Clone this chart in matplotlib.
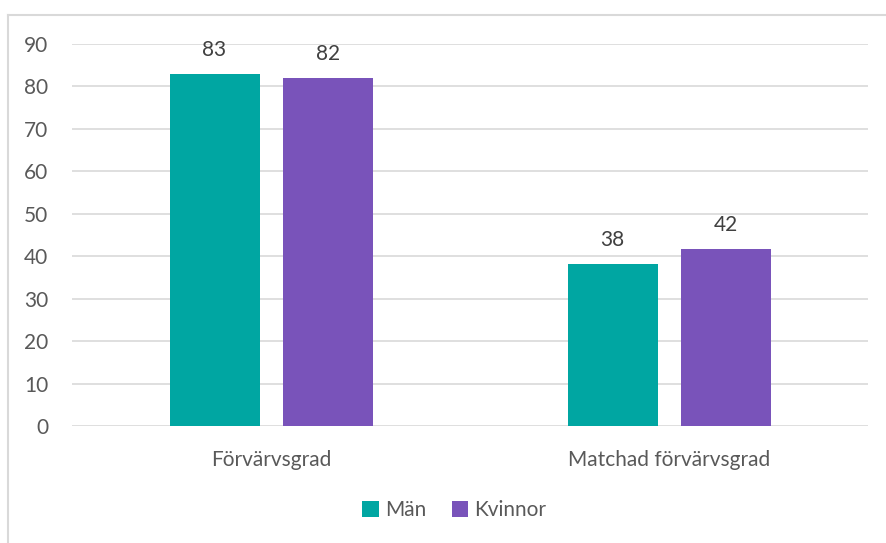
import numpy as np
import matplotlib.pyplot as plt
from matplotlib.lines import Line2D

categories = ['Förvärvsgrad', 'Matchad förvärvsgrad']
man = [83.0, 38.2]
kvinnor = [82.0, 41.7]
yticks = [0, 10, 20, 30, 40, 50, 60, 70, 80, 90]

TEAL = '#00A6A2'
PURPLE = '#7953BA'
TXT = '#595959'

plt.rcParams['font.family'] = ['Lato', 'DejaVu Sans']

fig = plt.figure(figsize=(8.86, 5.43), dpi=100)
ax = fig.add_axes([0.0813, 0.2155, 0.8987, 0.7035])

x = np.arange(len(categories))
w = 0.226
off = 0.142
b1 = ax.bar(x - off, man, w, color=TEAL, label='Män', zorder=2)
b2 = ax.bar(x + off, kvinnor, w, color=PURPLE, label='Kvinnor', zorder=2)

for bars, vals in ((b1, man), (b2, kvinnor)):
    for r, v in zip(bars, vals):
        ax.annotate('%.0f' % v, (r.get_x() + r.get_width() / 2, v),
                    xytext=(0, 10), textcoords='offset points',
                    ha='center', va='bottom', fontsize=15, color='#404040')

ax.set_xlim(-0.5, 1.5)
ax.set_ylim(0, 90)
ax.set_yticks(yticks)
ax.set_xticks(x)
ax.set_xticklabels(categories)
ax.yaxis.grid(True, color='#D9D9D9', linewidth=1.2, zorder=0)
ax.set_axisbelow(True)
for s in ax.spines.values():
    s.set_visible(False)
ax.tick_params(axis='both', length=0, labelsize=15, colors=TXT)
ax.tick_params(axis='y', pad=17)
ax.tick_params(axis='x', pad=17)

fig.legend(handles=[b1, b2], loc='center', bbox_to_anchor=(0.513, 0.06),
           ncol=2, frameon=False, fontsize=15, labelcolor=TXT,
           handlelength=0.8, handleheight=0.8, handletextpad=0.3, columnspacing=1.2)

# outer chart border
fig.add_artist(Line2D([0.009, 1.0], [0.972, 0.972], color='#D9D9D9', lw=1.5))
fig.add_artist(Line2D([0.009, 0.009], [0.0, 0.972], color='#D9D9D9', lw=1.5))

fig.savefig('out.png', dpi=100)
